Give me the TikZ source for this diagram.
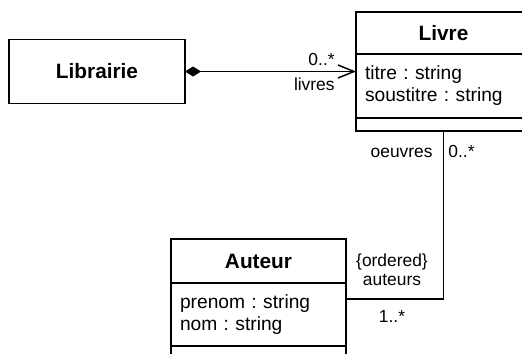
\documentclass[tikz,border=0pt]{standalone}
\usepackage{fontspec}
\setmainfont{Liberation Sans}
\frenchspacing
\usetikzlibrary{arrows.meta,positioning,fit}
\definecolor{umlInk}{HTML}{000000}
\tikzset{
  clsName/.style={draw=umlInk, line width=0.75pt, minimum width=87.5pt, minimum height=21pt, inner sep=0pt, outer sep=0pt, font=\fontsize{10.4}{12}\selectfont\bfseries},
  clsAttr/.style={clsName, minimum height=32pt, text width=78.5pt, align=left, font=\fontsize{9.6}{11}\selectfont},
  clsOps/.style={clsName, minimum height=6.5pt},
  clsBox/.style={clsName, minimum width=88pt, minimum height=32pt},
  clsGrp/.style={inner sep=0pt, outer sep=0pt},
  role/.style={inner sep=0pt, align=center, font=\fontsize{8.7}{9.5}\selectfont},
  assoc/.style={draw=umlInk, line width=0.75pt},
  comp/.style={assoc, {Diamond[length=8pt,width=5pt]}-{Straight Barb[length=8pt,width=6.5pt]}},
}
\begin{document}
\begin{tikzpicture}[x=0.5pt, y=-0.5pt]
  \useasboundingbox (0,0) rectangle (522,353);
  \clip (0,0) rectangle (522,353);
  % classes
  \node[clsBox] (lib) at (97,71.5) {Librairie};
  \node[clsName] (livreName) at (443.5,33) {Livre};
  \node[clsAttr, below=0pt of livreName] (livreAttr) {titre : string\\soustitre : string};
  \node[clsOps, below=0pt of livreAttr] (livreOps) {};
  \node[clsGrp, fit=(livreName)(livreOps)] (livre) {};
  \node[clsName, minimum height=22pt] (auteurName) at (258.5,261) {Auteur};
  \node[clsAttr, minimum height=31.5pt, below=0pt of auteurName] (auteurAttr) {prenom : string\\nom : string};
  \node[clsOps, below=0pt of auteurAttr] (auteurOps) {};
  \node[clsGrp, fit=(auteurName)(auteurOps)] (auteur) {};
  % associations
  \draw[comp] (lib.east) -- (lib.east -| livre.west);
  \node[role, anchor=base east] (multLivres) at ([xshift=-10.5pt, yshift=2.75pt]livre.west) {0..*};
  \node[role, anchor=base east] (roleLivres) at ([xshift=-10.5pt, yshift=-9.5pt]livre.west) {livres};
  \draw[assoc] (livre.south) |- (auteur.east);
  \node[role, anchor=base east] (roleOeuvres) at ([xshift=-5.25pt, yshift=-13pt]livre.south) {oeuvres};
  \node[role, anchor=base west] (multOeuvres) at ([xshift=2.25pt, yshift=-13pt]livre.south) {0..*};
  \node[role, anchor=south] (roleAuteurs) at ([xshift=23pt, yshift=6.7pt]auteur.east) {\{ordered\}\\auteurs};
  \node[role, anchor=base] (multAuteurs) at ([xshift=23pt, yshift=-11.8pt]auteur.east) {1..*};
\end{tikzpicture}
\end{document}
